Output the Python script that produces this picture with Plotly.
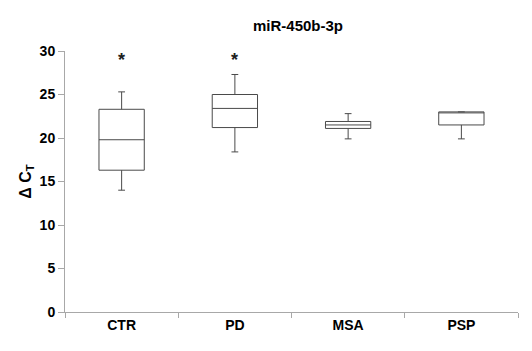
import plotly.graph_objects as go

groups = ["CTR", "PD", "MSA", "PSP"]
lower = [14.0, 18.4, 19.9, 19.9]
q1 = [16.3, 21.2, 21.1, 21.5]
median = [19.8, 23.4, 21.5, 23.0]
q3 = [23.3, 25.0, 21.9, 23.0]
upper = [25.3, 27.3, 22.8, 23.0]
star_groups = ["CTR", "PD"]
star_y = [29.0, 29.0]

font = "Liberation Sans, Arial, sans-serif"

fig = go.Figure()
fig.add_trace(go.Box(
    x=groups,
    q1=q1,
    median=median,
    q3=q3,
    lowerfence=lower,
    upperfence=upper,
    fillcolor="white",
    line=dict(color="#4a4a4a", width=1),
    width=0.4,
    whiskerwidth=0.15,
    boxpoints=False,
    hoverinfo="skip",
))

# significance stars
for g, sy in zip(star_groups, star_y):
    fig.add_annotation(
        x=g, y=sy, xref="x", yref="y", text="<b>*</b>", showarrow=False,
        yanchor="middle", font=dict(family=font, size=18, color="#202020"),
    )

fig.add_annotation(
    text="<b>miR-450b-3p</b>", x=0.514, y=1.0, xref="paper", yref="paper",
    yanchor="middle", yshift=26, showarrow=False, font=dict(size=15),
)

fig.update_layout(
    width=532,
    height=351,
    margin=dict(l=65, r=14, t=51, b=39),
    paper_bgcolor="white",
    plot_bgcolor="white",
    showlegend=False,
    font=dict(family=font, color="black"),
)

fig.update_xaxes(
    type="category",
    categoryorder="array",
    categoryarray=groups,
    range=[-0.5, 3.5],
    showline=True,
    linecolor="#a8a8a8",
    linewidth=1,
    ticks="outside",
    tickson="boundaries",
    ticklen=5,
    tickcolor="#a8a8a8",
    tickfont=dict(size=14),
    tickprefix="<b>",
    ticksuffix="</b>",
    showgrid=False,
)
fig.update_yaxes(
    range=[0, 30],
    dtick=5,
    showline=True,
    linecolor="#a8a8a8",
    linewidth=1,
    ticks="outside",
    ticklen=6,
    tickcolor="#a8a8a8",
    tickfont=dict(size=14),
    tickprefix="<b>",
    ticksuffix="</b>",
    showgrid=False,
    zeroline=False,
    automargin=False,
    title=dict(text="<b>Δ C<sub>T</sub></b>", font=dict(size=16), standoff=4),
)

fig.write_html(
    "out.html",
    config={"displayModeBar": False},
    post_script="document.body.style.margin='0';",
)
